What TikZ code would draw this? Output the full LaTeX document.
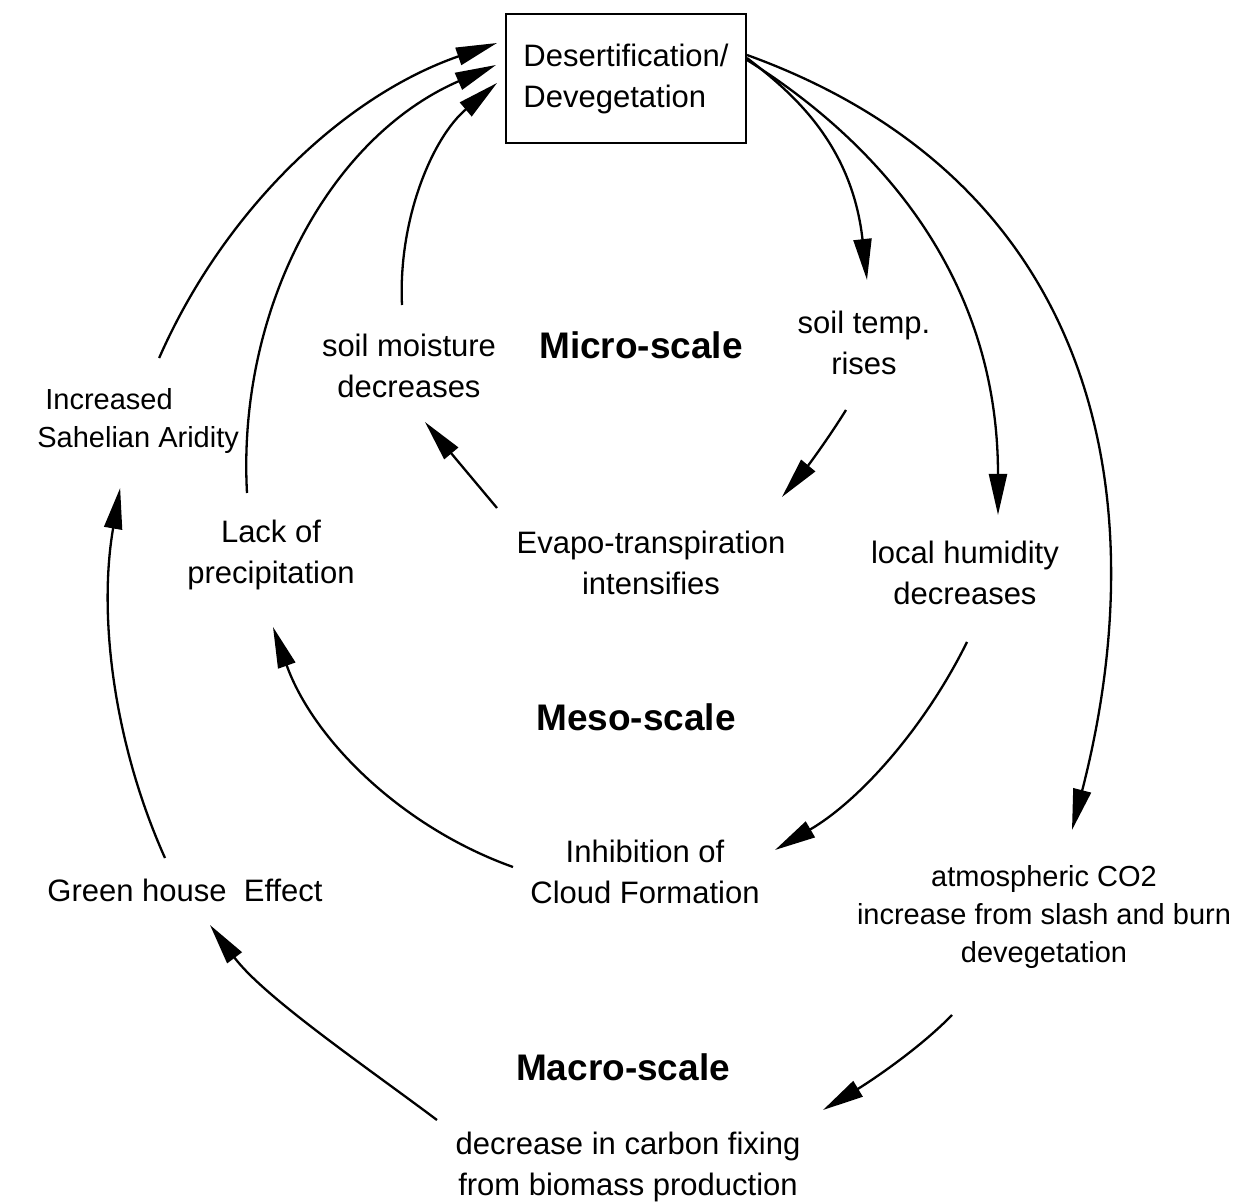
\documentclass[tikz,border=0pt]{standalone}
\usepackage{fontspec}
\setmainfont{Liberation Sans}
\usetikzlibrary{arrows.meta,calc}
\begin{document}
\begin{tikzpicture}[x=0.5pt,y=-0.5pt,
  txt/.style={align=center, inner sep=0pt, font=\fontsize{15.5pt}{20.5pt}\selectfont},
  smalltxt/.style={inner sep=0pt, font=\fontsize{14.5pt}{19pt}\selectfont},
  scalelbl/.style={inner sep=0pt, font=\fontsize{18.5pt}{22pt}\selectfont\bfseries},
  link/.style={line width=1.15pt, -{Triangle[length=20.5pt,width=9pt]}},
]
\useasboundingbox (0,0) rectangle (1238,1203);

% central box
\node[draw, line width=1pt, minimum width=120pt, minimum height=64.5pt, align=left,
      inner sep=0pt, font=\fontsize{15.5pt}{20.5pt}\selectfont] (box) at (626,78.5)
  {Desertification/\\Devegetation};

% nodes of the three loops
\node[txt] (moist)  at (409,366)  {soil moisture\\decreases};
\node[txt] (temp)   at (864,343)  {soil temp.\\rises};
\node[smalltxt, align=left, anchor=west] (sahel) at (37,421) {\hspace{4pt}Increased\\Sahelian Aridity};
\node[txt] (lack)   at (271,555)  {Lack of\\precipitation};
\node[txt] (evapo)  at (651,563)  {Evapo-transpiration\\intensifies};
\node[txt] (humid)  at (965,573)  {local humidity\\decreases};
\node[txt] (cloud)  at (645,872)  {Inhibition of\\Cloud Formation};
\node[txt] (green)  at (185,890)  {Green house\ \ Effect};
\node[smalltxt, align=center] (co2) at (1044,917) {atmospheric CO2\\increase from slash and burn\\devegetation};
\node[txt] (carbon) at (628,1167) {decrease in carbon fixing\\from biomass production};

% scale labels
\node[scalelbl] (micro) at (641,345)  {Micro-scale};
\node[scalelbl] (meso)  at (636,717)  {Meso-scale};
\node[scalelbl] (macro) at (623,1067) {Macro-scale};

% feedbacks into the box
\draw[link] ($(sahel.center)+(21,-63)$) .. controls +(65,-148) and +(-153,53) .. ($(box.west)+(-8,-35.5)$);
\draw[link] ($(lack.center)+(-24,-62)$) .. controls +(-10,-182) and +(-168,73) .. ($(box.west)+(-9,-13.5)$);
\draw[link] ($(moist.center)+(-7,-61)$) .. controls +(-4,-85) and +(-65,55) .. ($(box.west)+(-8,4.5)$);

% effects out of the box
\draw[link] ($(box.east)+(0,-20.5)$) .. controls +(40,31) and +(-15.5,-140) .. ($(temp.center)+(3,-63)$);
\draw[link] ($(box.east)+(0,-18.5)$) .. controls +(115,72) and +(0,-252) .. ($(humid.center)+(33,-58)$);
\draw[link] ($(box.east)+(0,-23.5)$) .. controls +(351,127) and +(86,-334) .. ($(co2.center)+(28,-87)$);

% micro-scale
\draw[link] ($(temp.center)+(-18,67)$) .. controls +(-20,32) and +(25,-30) .. ($(evapo.center)+(131,-66)$);
\draw[link] ($(evapo.center)+(-154,-55)$) -- ($(moist.center)+(16,56)$);

% meso-scale
\draw[link] ($(humid.center)+(2,69)$) .. controls +(-43,87) and +(84,-49) .. ($(cloud.center)+(130,-22)$);
\draw[link] ($(cloud.center)+(-132,-5)$) .. controls +(-112,-40) and +(40,112) .. ($(lack.center)+(2,72)$);

% macro-scale
\draw[link] ($(green.center)+(-20,-32)$) .. controls +(-52,-116) and +(-22,126) .. ($(sahel.center)+(-18,67)$);
\draw[link] ($(co2.center)+(-92,98)$) .. controls +(-35,36) and +(43,-26) .. ($(carbon.center)+(195,-57)$);
\draw[link] ($(carbon.center)+(-191,-47)$) .. controls +(-72,-54) and +(54,72) .. ($(green.center)+(25,35)$);
\end{tikzpicture}
\end{document}
